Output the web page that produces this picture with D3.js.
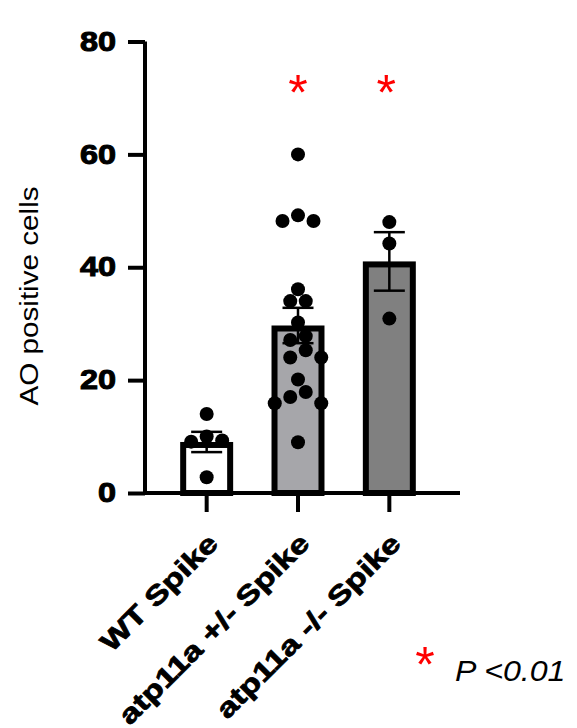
<!DOCTYPE html>
<html>
<head>
<meta charset="utf-8">
<script src="https://cdn.jsdelivr.net/npm/d3@7"></script>
<style>
  body { margin: 0; background: #fff; }
  text { font-family: "Liberation Sans", Arial, sans-serif; }
</style>
</head>
<body>
<div id="chart"></div>
<script>
// groups and the individual values
const groups = ["WT Spike", "atp11a +/- Spike", "atp11a -/- Spike"];
const wtSpike = [14, 10, 9.3, 9.1, 2.8];
const hetSpike = [60, 49.2, 48.2, 48.2, 36.1, 34, 34, 30.2, 27.8, 27.1,
  25.3, 24, 24, 20.1, 17.9, 17, 15.9, 15.9, 9];
const homSpike = [48, 44.2, 30.9];
const significant = [false, true, true];
const yTicks = [0, 20, 40, 60, 80];
const legendText = "P <0.01";
const yLabel = "AO positive cells";

const width = 577, height = 728;
const fills = ["#ffffff", "#a6a6aa", "#808080"];

const values = [wtSpike, hetSpike, homSpike];
const stats = values.map((v) => ({
  mean: d3.mean(v),
  sem: d3.deviation(v) / Math.sqrt(v.length),
}));

const svg = d3.select("#chart").append("svg")
  .attr("width", width).attr("height", height);

const y = d3.scaleLinear().domain([0, 80]).range([493, 41.5]);
const x = d3.scaleBand().domain(groups).range([161, 435])
  .paddingInner(0.42).paddingOuter(0.21);
const bw = x.bandwidth();
const border = 6;

// stretch text along its baseline (the figure's font is wider than Arial)
function stretch(sel, k) {
  sel.each(function () {
    const w = this.getComputedTextLength();
    d3.select(this).attr("textLength", w * k).attr("lengthAdjust", "spacingAndGlyphs");
  });
}

// Bars (border drawn inside the bar)
svg.append("g").selectAll("rect")
  .data(groups)
  .join("rect")
  .attr("x", (d) => x(d) + border / 2)
  .attr("width", bw - border)
  .attr("y", (d, i) => y(stats[i].mean) + border / 2)
  .attr("height", (d, i) => y(0) - y(stats[i].mean) - border / 2)
  .attr("fill", (d, i) => fills[i])
  .attr("stroke", "#000")
  .attr("stroke-width", border);

// simple beeswarm so dots don't overlap
const r = 7;
const slots = [0, 7.75, -7.75, 15.5, -15.5, 23.25, -23.25];
function swarm(vals) {
  const placed = [];
  vals.slice().sort((a, b) => b - a).forEach((v) => {
    const py = y(v);
    let dx = 0;
    for (const s of slots) {
      const ok = placed.every((p) => Math.hypot(p.dx - s, p.py - py) >= 2 * r);
      if (ok) { dx = s; break; }
    }
    placed.push({ v, py, dx });
  });
  return placed;
}

const dots = [];
groups.forEach((g, i) => {
  swarm(values[i]).forEach((p) => dots.push({ cx: x(g) + bw / 2 + p.dx, cy: p.py }));
});

svg.append("g").selectAll("circle")
  .data(dots)
  .join("circle")
  .attr("cx", (d) => d.cx)
  .attr("cy", (d) => d.cy)
  .attr("r", r)
  .attr("fill", "#000");

// Error bars (mean ± SEM)
const eb = svg.append("g").attr("stroke", "#000").attr("stroke-width", 2.5);
groups.forEach((g, i) => {
  const cx = x(g) + bw / 2;
  const lo = y(stats[i].mean - stats[i].sem), hi = y(stats[i].mean + stats[i].sem);
  eb.append("line").attr("x1", cx).attr("x2", cx).attr("y1", lo).attr("y2", hi);
  eb.append("line").attr("x1", cx - 15.5).attr("x2", cx + 15.5).attr("y1", lo).attr("y2", lo);
  eb.append("line").attr("x1", cx - 15.5).attr("x2", cx + 15.5).attr("y1", hi).attr("y2", hi);
});

// Y axis
const yAxis = svg.append("g")
  .attr("transform", "translate(145,0)")
  .call(d3.axisLeft(y).tickValues(yTicks).tickSize(17).tickPadding(12).tickFormat(d3.format("d")));
yAxis.select(".domain").attr("d", `M0,${y(80)}V${y(0) + 2}`).attr("stroke-width", 4);
yAxis.selectAll(".tick line").attr("stroke-width", 4);
yAxis.selectAll(".tick text")
  .attr("font-family", "Liberation Sans, Arial, sans-serif")
  .attr("font-size", 27)
  .attr("font-weight", "bold")
  .attr("fill", "#000")
  .attr("stroke", "#000")
  .attr("stroke-width", 1)
  .call(stretch, 1.2);

// X axis
const xAxis = svg.append("g").attr("transform", `translate(0,${y(0)})`);
xAxis.append("line").attr("x1", 143).attr("x2", 460).attr("stroke", "#000").attr("stroke-width", 4);
xAxis.selectAll(".xtick")
  .data(groups)
  .join("line")
  .attr("x1", (d) => x(d) + bw / 2).attr("x2", (d) => x(d) + bw / 2)
  .attr("y1", 0).attr("y2", 19)
  .attr("stroke", "#000").attr("stroke-width", 4);
xAxis.selectAll(".xlabel")
  .data(groups)
  .join("text")
  .attr("transform", (d) => `translate(${x(d) + bw / 2 + 13},52) rotate(-45)`)
  .attr("text-anchor", "end")
  .attr("font-size", 27)
  .attr("font-weight", "bold")
  .attr("stroke", "#000")
  .attr("stroke-width", 0.8)
  .text((d) => d)
  .call(stretch, 1.26);

// Y label
svg.append("text")
  .attr("transform", "translate(38,296) rotate(-90)")
  .attr("text-anchor", "middle")
  .attr("font-size", 26)
  .text(yLabel)
  .call(stretch, 1.14);

// significance stars
svg.append("g").selectAll("text")
  .data(groups.filter((g, i) => significant[i]))
  .join("text")
  .attr("x", (d, i) => x(d) + bw / 2 - (i ? 3 : 0))
  .attr("y", 110)
  .attr("text-anchor", "middle")
  .attr("font-size", 50)
  .attr("fill", "#ff0000")
  .text("*");

// legend
svg.append("text")
  .attr("x", 425).attr("y", 682)
  .attr("text-anchor", "middle")
  .attr("font-size", 50)
  .attr("fill", "#ff0000")
  .text("*");
svg.append("text")
  .attr("x", 455).attr("y", 681)
  .attr("font-size", 30)
  .attr("font-style", "italic")
  .text(legendText)
  .call(stretch, 1.07);
</script>
</body>
</html>
